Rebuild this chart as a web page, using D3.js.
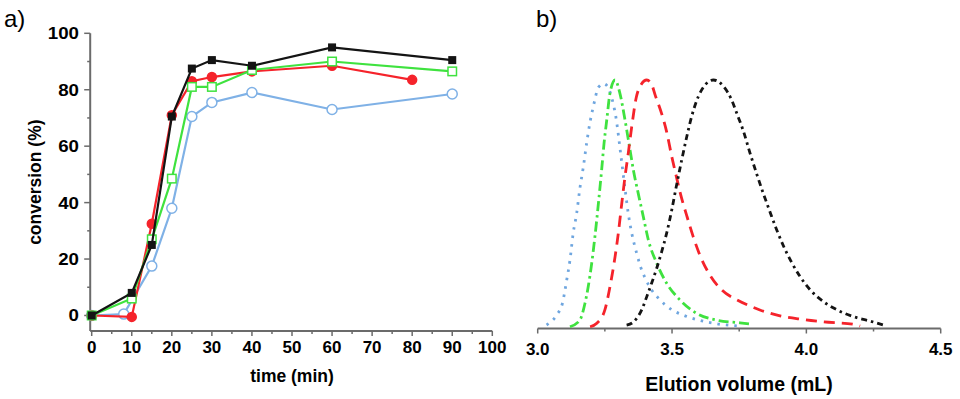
<!DOCTYPE html>
<html>
<head>
<meta charset="utf-8">
<script src="https://cdn.jsdelivr.net/npm/d3@7"></script>
<style>
  body { margin: 0; background: #fff; }
  svg { display: block; font-family: "Liberation Sans", Arial, sans-serif; }
</style>
</head>
<body>
<div id="chart"></div>
<script>
// ---- panel a: conversion vs time ----
var timeBlack = [0, 10, 15, 20, 25, 30, 40, 60, 90];
var convBlack = [0, 8, 25, 70.5, 87.5, 90.5, 88.5, 95, 90.5];
var timeRed = [0, 10, 15, 20, 25, 30, 40, 60, 80];
var convRed = [0, -0.5, 32.5, 71, 83, 84.5, 86.5, 88.5, 83.5];
var timeGreen = [0, 10, 15, 20, 25, 30, 40, 60, 90];
var convGreen = [0, 6, 27, 48.5, 81, 81, 87, 90, 86.5];
var timeBlue = [0, 8, 15, 20, 25, 30, 40, 60, 90];
var convBlue = [0, 0.5, 17.5, 38, 70.5, 75.5, 79, 73, 78.5];
var timeTicks = [0, 10, 20, 30, 40, 50, 60, 70, 80, 90, 100];
var convTicks = [0, 20, 40, 60, 80, 100];

// ---- panel b: SEC traces (normalised) ----
var volBlue = [3.033, 3.071, 3.092, 3.108, 3.120, 3.132, 3.145, 3.157, 3.170, 3.182, 3.195, 3.207, 3.226, 3.245, 3.259, 3.275, 3.291, 3.309, 3.325, 3.337, 3.350, 3.368, 3.381, 3.399, 3.424, 3.455, 3.499, 3.542, 3.592, 3.672, 3.753];
var sigBlue = [0.008, 0.049, 0.096, 0.19, 0.27, 0.379, 0.46, 0.561, 0.649, 0.743, 0.831, 0.892, 0.97, 0.985, 0.975, 0.93, 0.85, 0.70, 0.56, 0.46, 0.38, 0.30, 0.25, 0.20, 0.15, 0.11, 0.07, 0.048, 0.03, 0.012, 0.004];
var volGreen = [3.120, 3.157, 3.176, 3.188, 3.201, 3.213, 3.226, 3.238, 3.247, 3.257, 3.269, 3.288, 3.306, 3.325, 3.344, 3.356, 3.374, 3.393, 3.412, 3.443, 3.480, 3.530, 3.592, 3.666, 3.753, 3.796];
var sigGreen = [0.001, 0.028, 0.096, 0.163, 0.258, 0.366, 0.501, 0.636, 0.744, 0.838, 0.946, 1.0, 0.946, 0.838, 0.715, 0.636, 0.542, 0.447, 0.352, 0.258, 0.177, 0.109, 0.055, 0.028, 0.017, 0.011];
var volRed = [3.195, 3.220, 3.250, 3.269, 3.288, 3.300, 3.313, 3.325, 3.337, 3.350, 3.367, 3.384, 3.406, 3.425, 3.437, 3.461, 3.480, 3.499, 3.517, 3.530, 3.555, 3.579, 3.604, 3.641, 3.685, 3.741, 3.790, 3.827, 3.902, 3.983, 4.063, 4.175, 4.200];
var sigRed = [0.001, 0.015, 0.069, 0.163, 0.285, 0.379, 0.501, 0.609, 0.703, 0.811, 0.93, 0.98, 1.0, 0.98, 0.94, 0.865, 0.79, 0.69, 0.605, 0.545, 0.45, 0.365, 0.29, 0.21, 0.15, 0.11, 0.085, 0.069, 0.045, 0.031, 0.021, 0.011, 0.004];
var volBlack = [3.331, 3.356, 3.387, 3.406, 3.424, 3.443, 3.461, 3.480, 3.499, 3.517, 3.536, 3.555, 3.573, 3.598, 3.623, 3.654, 3.691, 3.722, 3.741, 3.765, 3.790, 3.815, 3.840, 3.865, 3.889, 3.914, 3.945, 3.976, 4.013, 4.063, 4.113, 4.175, 4.237, 4.286];
var sigBlack = [0.008, 0.02, 0.069, 0.123, 0.177, 0.238, 0.303, 0.38, 0.474, 0.575, 0.676, 0.771, 0.852, 0.933, 0.98, 1.0, 0.975, 0.919, 0.865, 0.795, 0.705, 0.62, 0.54, 0.465, 0.395, 0.33, 0.262, 0.205, 0.152, 0.103, 0.07, 0.042, 0.024, 0.008];
var volTicks = [3.0, 3.5, 4.0, 4.5];

var width = 960, height = 399;
var axisCol = "#6b6b6b";

var svg = d3.select("#chart").append("svg")
  .attr("width", width)
  .attr("height", height);

// ================= panel a =================
var xa = d3.scaleLinear().domain([0, 100]).range([91.7, 492.3]);
var ya = d3.scaleLinear().domain([-5.5, 100]).range([331, 33.3]);

var ga = svg.append("g");

// axis lines
ga.append("line").attr("x1", xa(0) - 1.5).attr("x2", xa(100)).attr("y1", ya(-5.5)).attr("y2", ya(-5.5))
  .attr("stroke", axisCol).attr("stroke-width", 2);
ga.append("line").attr("x1", xa(0) - 1.5).attr("x2", xa(0) - 1.5).attr("y1", ya(-5.5)).attr("y2", ya(100))
  .attr("stroke", axisCol).attr("stroke-width", 2);

// x ticks
d3.range(0, 101, 5).forEach(function(t) {
  var major = t % 10 === 0;
  ga.append("line").attr("x1", xa(t)).attr("x2", xa(t))
    .attr("y1", ya(-5.5)).attr("y2", ya(-5.5) + (major ? 5 : 3))
    .attr("stroke", axisCol).attr("stroke-width", 1.5);
});
ga.selectAll("text.xt").data(timeTicks).enter().append("text")
  .attr("class", "xt")
  .attr("x", function(d) { return xa(d); })
  .attr("y", 353)
  .attr("text-anchor", "middle")
  .style("font-size", "17px").style("font-weight", "bold")
  .text(function(d) { return d; });

// y ticks
d3.range(0, 101, 10).forEach(function(v) {
  var major = v % 20 === 0;
  ga.append("line").attr("x1", xa(0) - 1.5).attr("x2", xa(0) - 1.5 - (major ? 6 : 3))
    .attr("y1", ya(v)).attr("y2", ya(v))
    .attr("stroke", axisCol).attr("stroke-width", 1.5);
});
ga.selectAll("text.yt").data(convTicks).enter().append("text")
  .attr("class", "yt")
  .attr("transform", function(d) { return "translate(79," + (ya(d) + 6) + ") scale(1.1,1)"; })
  .attr("text-anchor", "end")
  .style("font-size", "17px").style("font-weight", "bold")
  .text(function(d) { return d; });

ga.append("text").attr("x", xa(50)).attr("y", 382)
  .attr("text-anchor", "middle")
  .style("font-size", "17.5px").style("font-weight", "bold")
  .text("time (min)");
ga.append("text")
  .attr("transform", "translate(41," + ((ya(-5.5) + ya(100)) / 2) + ") rotate(-90)")
  .attr("text-anchor", "middle")
  .style("font-size", "17.5px").style("font-weight", "bold")
  .text("conversion (%)");
ga.append("text").attr("x", 4).attr("y", 27)
  .style("font-size", "24px")
  .text("a)");

var lineA = d3.line()
  .x(function(d) { return xa(d[0]); })
  .y(function(d) { return ya(d[1]); });

var seriesA = [
  {t: timeBlue, v: convBlue, col: "#7fb1e6", mark: "circle", fill: "#fff", size: 5},
  {t: timeRed, v: convRed, col: "#f5232b", mark: "circle", fill: "#f5232b", size: 4.5},
  {t: timeGreen, v: convGreen, col: "#3fe23f", mark: "square", fill: "#fff", size: 8.5},
  {t: timeBlack, v: convBlack, col: "#141414", mark: "square", fill: "#141414", size: 6.5}
];

seriesA.forEach(function(s) {
  var pts = d3.zip(s.t, s.v);
  ga.append("path").datum(pts)
    .attr("d", lineA)
    .attr("fill", "none")
    .attr("stroke", s.col)
    .attr("stroke-width", 2.2);
  var m = ga.selectAll(null).data(pts).enter();
  if (s.mark === "circle") {
    m.append("circle")
      .attr("cx", function(d) { return xa(d[0]); })
      .attr("cy", function(d) { return ya(d[1]); })
      .attr("r", s.size)
      .attr("fill", s.fill)
      .attr("stroke", s.col)
      .attr("stroke-width", 1.5);
  } else {
    m.append("rect")
      .attr("x", function(d) { return xa(d[0]) - s.size / 2; })
      .attr("y", function(d) { return ya(d[1]) - s.size / 2; })
      .attr("width", s.size).attr("height", s.size)
      .attr("fill", s.fill)
      .attr("stroke", s.col)
      .attr("stroke-width", 1.5);
  }
});

// ================= panel b =================
var xb = d3.scaleLinear().domain([3.0, 4.5]).range([537.7, 940.7]);
var yb = d3.scaleLinear().domain([0, 1]).range([327, 80]);
var gb = svg.append("g");
var baseY = 328.5;

gb.append("line").attr("x1", xb(3.0)).attr("x2", xb(4.5)).attr("y1", baseY).attr("y2", baseY)
  .attr("stroke", axisCol).attr("stroke-width", 2);
d3.range(0, 7).forEach(function(i) {
  var v = 3.0 + i * 0.25;
  var major = i % 2 === 0;
  gb.append("line").attr("x1", xb(v)).attr("x2", xb(v))
    .attr("y1", baseY).attr("y2", baseY + (major ? 5 : 3))
    .attr("stroke", axisCol).attr("stroke-width", 1.5);
});
gb.selectAll("text.bt").data(volTicks).enter().append("text")
  .attr("x", function(d) { return xb(d); })
  .attr("y", 355)
  .attr("text-anchor", "middle")
  .style("font-size", "17px").style("font-weight", "bold")
  .text(function(d) { return d.toFixed(1); });
gb.append("text").attr("x", 739).attr("y", 391)
  .attr("text-anchor", "middle")
  .style("font-size", "19.5px").style("font-weight", "bold")
  .text("Elution volume (mL)");
gb.append("text").attr("x", 536).attr("y", 27)
  .style("font-size", "24px")
  .text("b)");

var lineB = d3.line()
  .x(function(d) { return xb(d[0]); })
  .y(function(d) { return yb(d[1]); })
  .curve(d3.curveMonotoneX);

var seriesB = [
  {v: volBlue, s: sigBlue, col: "#6fa6df", dash: "2.5,6", w: 2.8},
  {v: volGreen, s: sigGreen, col: "#3fe23f", dash: "10,4,2.5,4", w: 2.8},
  {v: volRed, s: sigRed, col: "#f5232b", dash: "11,7", w: 2.8},
  {v: volBlack, s: sigBlack, col: "#141414", dash: "6,4,2.5,4", w: 2.8}
];
seriesB.forEach(function(s) {
  gb.append("path").datum(d3.zip(s.v, s.s))
    .attr("d", lineB)
    .attr("fill", "none")
    .attr("stroke", s.col)
    .attr("stroke-width", s.w)
    .attr("stroke-dasharray", s.dash);
});
</script>
</body>
</html>
